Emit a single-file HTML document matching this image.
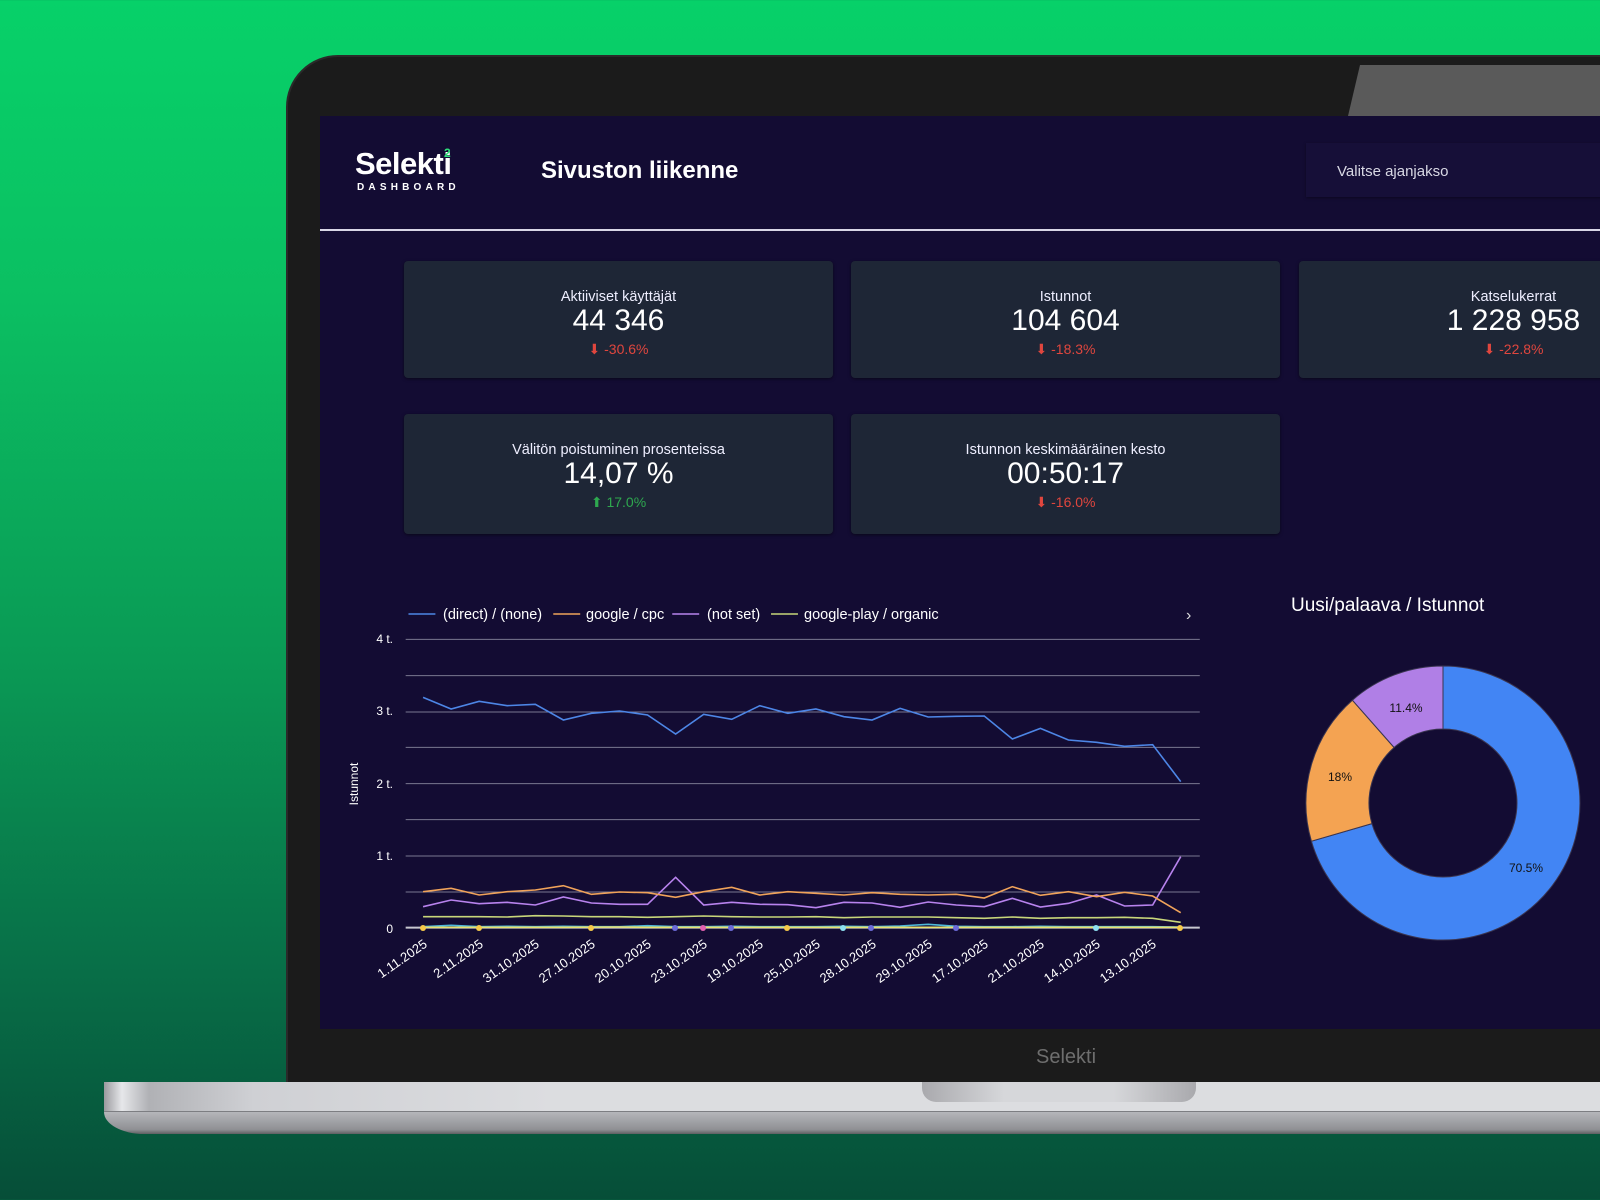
<!DOCTYPE html>
<html><head><meta charset="utf-8"><style>
html,body{margin:0;padding:0}
body{width:1600px;height:1200px;overflow:hidden;position:relative;font-family:"Liberation Sans",sans-serif;
background:linear-gradient(180deg,#07d169 0%,#0bbf62 25%,#0a9a55 55%,#087048 80%,#064e38 100%);}
.abs{position:absolute}
.card{position:absolute;background:#1e2636;border-radius:4px;color:#fff;text-align:center;box-shadow:0 1px 3px rgba(0,0,0,.5)}
.card .t{position:absolute;left:0;right:0;top:28px;font-size:14.5px;color:#eef}
.card .v{position:absolute;left:0;right:0;top:43px;font-size:30px;color:#fff}
.card .d{position:absolute;left:0;right:0;top:80px;font-size:14px;color:#e0463e}
.card .d.g{color:#2ea84f}
</style></head><body>
<!-- laptop bezel -->
<div class="abs" style="left:286px;top:55px;width:1400px;height:1030px;background:#1b1b1b;border-radius:52px 0 0 0;border:2px solid #2a2a2a"></div>
<svg class="abs" style="left:0;top:0" width="1600" height="1200">
<polygon points="1360,65 1348,116 1600,116 1600,65" fill="#5a5a5a"/>
</svg>
<!-- screen -->
<div class="abs" style="left:320px;top:116px;width:1280px;height:913px;background:#130c33"></div>
<div class="abs" style="left:320px;top:229px;width:1280px;height:2px;background:#d8d6e6"></div>
<div class="abs" style="left:355px;top:146px;font-size:31px;font-weight:bold;color:#fff;letter-spacing:-0.5px">Selekti</div>
<div class="abs" style="left:444px;top:146px;font-size:12px;color:#2ee07a;font-weight:bold">2</div>
<div class="abs" style="left:357px;top:182px;font-size:10px;font-weight:bold;color:#fff;letter-spacing:4.2px">DASHBOARD</div>
<div class="abs" style="left:541px;top:157px;font-size:24px;font-weight:bold;color:#fff">Sivuston liikenne</div>
<div class="abs" style="left:1306px;top:143px;width:300px;height:54px;background:#160f38;box-shadow:0 1px 3px rgba(0,0,0,.4)"></div>
<div class="abs" style="left:1337px;top:163px;font-size:15px;color:#d8d8e4">Valitse ajanjakso</div>

<div class="card" style="left:404px;top:261px;width:429px;height:117px"><div class="t">Aktiiviset käyttäjät</div><div class="v">44 346</div><div class="d">⬇ -30.6%</div></div>
<div class="card" style="left:851px;top:261px;width:429px;height:117px"><div class="t">Istunnot</div><div class="v">104 604</div><div class="d">⬇ -18.3%</div></div>
<div class="card" style="left:1299px;top:261px;width:429px;height:117px"><div class="t">Katselukerrat</div><div class="v">1 228 958</div><div class="d">⬇ -22.8%</div></div>
<div class="card" style="left:404px;top:414px;width:429px;height:120px"><div class="t">Välitön poistuminen prosenteissa</div><div class="v">14,07 %</div><div class="d g">⬆ 17.0%</div></div>
<div class="card" style="left:851px;top:414px;width:429px;height:120px"><div class="t">Istunnon keskimääräinen kesto</div><div class="v">00:50:17</div><div class="d">⬇ -16.0%</div></div>

<!-- line chart -->
<svg class="abs" style="left:340px;top:590px" width="880" height="440" viewBox="0 0 1568 1320" preserveAspectRatio="none">
<g stroke="#7a7790" stroke-width="1" vector-effect="non-scaling-stroke">
<line x1="117" x2="1532" y1="148" y2="148" vector-effect="non-scaling-stroke"/>
<line x1="117" x2="1532" y1="257" y2="257" vector-effect="non-scaling-stroke"/>
<line x1="117" x2="1532" y1="366" y2="366" vector-effect="non-scaling-stroke"/>
<line x1="117" x2="1532" y1="472" y2="472" vector-effect="non-scaling-stroke"/>
<line x1="117" x2="1532" y1="581" y2="581" vector-effect="non-scaling-stroke"/>
<line x1="117" x2="1532" y1="689" y2="689" vector-effect="non-scaling-stroke"/>
<line x1="117" x2="1532" y1="798" y2="798" vector-effect="non-scaling-stroke"/>
<line x1="117" x2="1532" y1="906" y2="906" vector-effect="non-scaling-stroke"/>
</g>
<line x1="117" x2="1532" y1="1013" y2="1013" stroke="#c8c8d0" stroke-width="2" vector-effect="non-scaling-stroke"/>
<g fill="none" stroke-width="1.6">
<polyline vector-effect="non-scaling-stroke" stroke="#c8d67a" points="148,980 198,980 248,980 298,981 348,977 398,978 448,980 498,980 548,982 598,980 648,978 698,980 748,981 798,981 848,980 898,983 948,981 998,981 1048,981 1098,983 1148,985 1198,981 1248,985 1298,983 1348,983 1398,982 1448,985 1498,997"/>
<polyline vector-effect="non-scaling-stroke" stroke="#4fb8d8" points="148,1010 198,1006 248,1010 298,1009 348,1010 398,1009 448,1010 498,1010 548,1007 598,1010 648,1010 698,1009 748,1010 798,1010 848,1010 898,1009 948,1010 998,1008 1048,1003 1098,1009 1148,1010 1198,1010 1248,1009 1298,1010 1348,1010 1398,1010 1448,1010 1498,1011"/>
<polyline vector-effect="non-scaling-stroke" stroke="#e8e070" points="148,1012 298,1012 398,1012 498,1011 548,1012 798,1012 898,1012 1048,1012 1148,1012 1498,1012"/>
<polyline vector-effect="non-scaling-stroke" stroke="#b883ee" points="148,950 198,930 248,941 298,937 348,945 398,921 448,939 498,943 548,943 598,862 648,945 698,937 748,943 798,944 848,953 898,937 948,939 998,952 1048,936 1098,945 1148,950 1198,925 1248,951 1298,940 1348,915 1398,948 1448,945 1498,800"/>
<polyline vector-effect="non-scaling-stroke" stroke="#f0a35a" points="148,905 198,895 248,915 298,905 348,900 398,887 448,913 498,906 548,908 598,922 648,905 698,892 748,915 798,905 848,910 898,915 948,908 998,913 1048,915 1098,913 1148,924 1198,890 1248,916 1298,905 1348,920 1398,907 1448,918 1498,968"/>
<polyline vector-effect="non-scaling-stroke" stroke="#4d86e6" points="148,322 198,357 248,334 298,347 348,343 398,390 448,370 498,363 548,375 598,432 648,373 698,388 748,347 798,370 848,357 898,380 948,390 998,355 1048,381 1098,379 1148,378 1198,447 1248,415 1298,450 1348,457 1398,469 1448,464 1498,575"/>
<line vector-effect="non-scaling-stroke" x1="122" x2="170" y1="72" y2="72" stroke="#4d86e6"/>
<line vector-effect="non-scaling-stroke" x1="380" x2="428" y1="72" y2="72" stroke="#f0a35a"/>
<line vector-effect="non-scaling-stroke" x1="592" x2="640" y1="72" y2="72" stroke="#b883ee"/>
<line vector-effect="non-scaling-stroke" x1="768" x2="816" y1="72" y2="72" stroke="#c8d67a"/>
</g>
</svg>
<svg class="abs" style="left:0;top:0" width="1600" height="1200" font-family="Liberation Sans, sans-serif">
<g fill="#f5c94a"><circle cx="423" cy="928" r="3"/><circle cx="479" cy="928" r="3"/><circle cx="591" cy="928" r="3"/><circle cx="787" cy="928" r="3"/><circle cx="1180" cy="928" r="3"/></g>
<g fill="#6b6ad8"><circle cx="675" cy="928" r="3"/><circle cx="731" cy="928" r="3"/><circle cx="871" cy="928" r="3"/><circle cx="956" cy="928" r="3"/></g>
<circle cx="703" cy="928" r="3" fill="#e060b0"/><circle cx="843" cy="928" r="3" fill="#8ee0f0"/><circle cx="1096" cy="928" r="3" fill="#8ee0f0"/>
<g font-size="14.5" fill="#fff">
<text x="443" y="619">(direct) / (none)</text>
<text x="586" y="619">google / cpc</text>
<text x="707" y="619">(not set)</text>
<text x="804" y="619">google-play / organic</text>
</g>
<text x="1186" y="620" fill="#ddd" font-size="16">›</text>
<g font-size="12" fill="#fff" text-anchor="end">
<text x="393" y="643">4 t.</text><text x="393" y="715">3 t.</text><text x="393" y="788">2 t.</text><text x="393" y="860">1 t.</text><text x="393" y="933">0</text>
</g>
<text transform="translate(358,784) rotate(-90)" font-size="12" fill="#fff" text-anchor="middle">Istunnot</text>
<g font-size="13" fill="#fff" text-anchor="end">
<text transform="translate(428,946) rotate(-35)">1.11.2025</text>
<text transform="translate(484,946) rotate(-35)">2.11.2025</text>
<text transform="translate(540,946) rotate(-35)">31.10.2025</text>
<text transform="translate(596,946) rotate(-35)">27.10.2025</text>
<text transform="translate(652,946) rotate(-35)">20.10.2025</text>
<text transform="translate(708,946) rotate(-35)">23.10.2025</text>
<text transform="translate(764,946) rotate(-35)">19.10.2025</text>
<text transform="translate(821,946) rotate(-35)">25.10.2025</text>
<text transform="translate(877,946) rotate(-35)">28.10.2025</text>
<text transform="translate(933,946) rotate(-35)">29.10.2025</text>
<text transform="translate(989,946) rotate(-35)">17.10.2025</text>
<text transform="translate(1045,946) rotate(-35)">21.10.2025</text>
<text transform="translate(1101,946) rotate(-35)">14.10.2025</text>
<text transform="translate(1157,946) rotate(-35)">13.10.2025</text>
</g>
<!-- donut -->
<text x="1291" y="611" font-size="19" fill="#fff">Uusi/palaava / Istunnot</text>
<g stroke="#3a3550" stroke-width="1">
<path d="M1443 666 A137 137 0 1 1 1311.4 841.2 L1371.9 823.6 A74 74 0 1 0 1443 729 Z" fill="#4285f4"/>
<path d="M1311.4 841.2 A137 137 0 0 1 1352.4 700.2 L1394.1 747.5 A74 74 0 0 0 1371.9 823.6 Z" fill="#f4a352"/>
<path d="M1352.4 700.2 A137 137 0 0 1 1443 666 L1443 729 A74 74 0 0 0 1394.1 747.5 Z" fill="#b07fe6"/>
</g>
<g font-size="12" fill="#111" text-anchor="middle">
<text x="1406" y="712">11.4%</text><text x="1340" y="781">18%</text><text x="1526" y="872">70.5%</text>
</g>
<text x="1066" y="1063" font-size="20" fill="#6e6e6e" text-anchor="middle">Selekti</text>
</svg>
<!-- base -->
<div class="abs" style="left:104px;top:1082px;width:1496px;height:30px;background:linear-gradient(90deg,#9a9a9e 0%,#e6e7ea 1.2%,#b0b1b5 3%,#cfd0d4 10%,#dcdde0 30%,#dcdde0 100%)"></div>
<div class="abs" style="left:104px;top:1111px;width:1496px;height:22px;background:linear-gradient(180deg,#b5b6ba 0%,#8f9094 80%,#5e5f62 100%);border-radius:0 0 0 40px / 0 0 0 22px;border-top:1px solid #7d7e82"></div>
<div class="abs" style="left:922px;top:1082px;width:274px;height:20px;background:linear-gradient(90deg,#a9a9ad,#d6d7da 30%,#d6d7da 70%,#a9a9ad);border-radius:0 0 14px 14px"></div>
</body></html>
